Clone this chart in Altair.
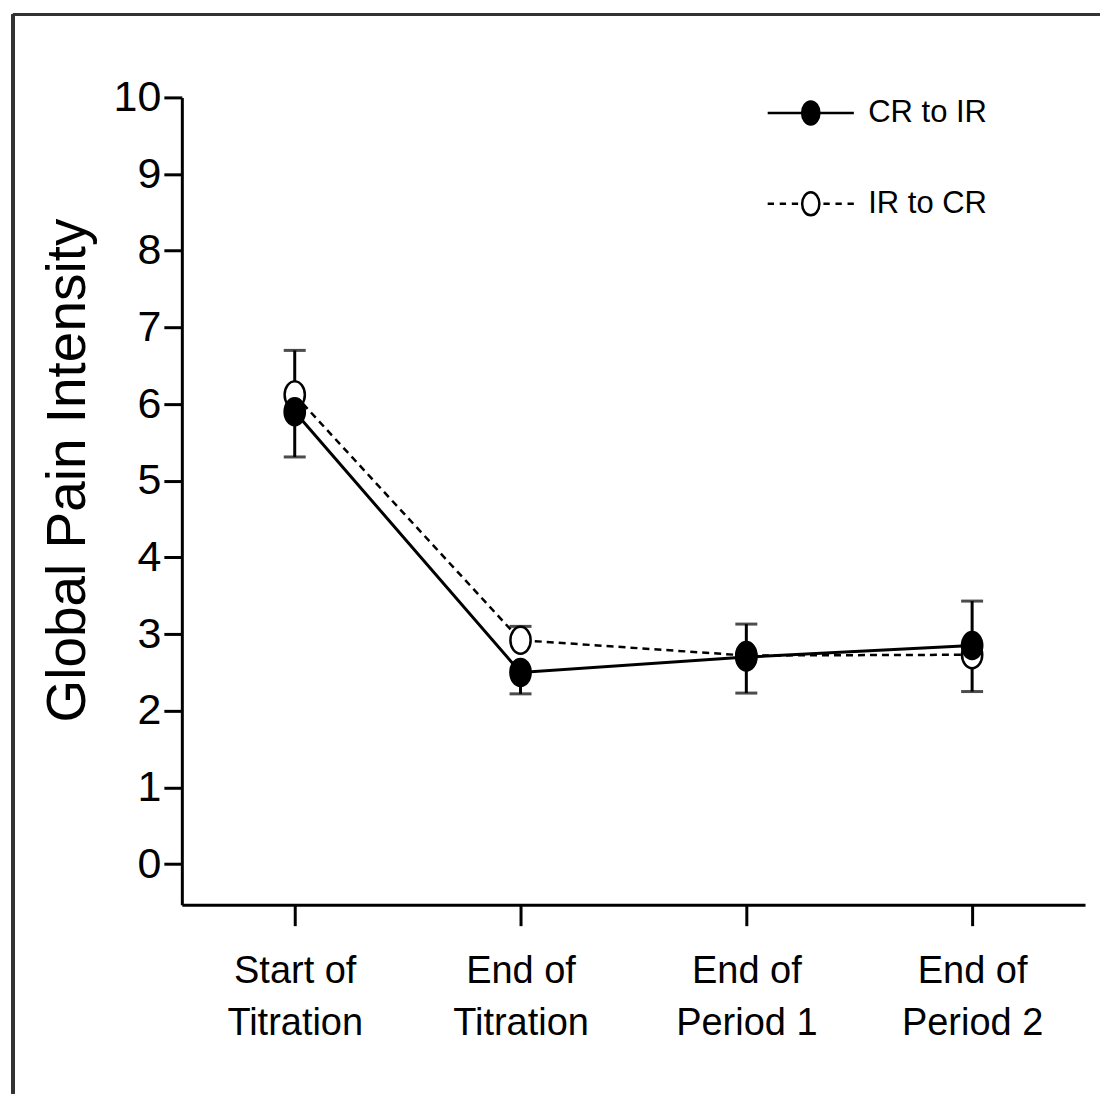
import altair as alt
import pandas as pd

timepoints = ["Start of Titration", "End of Titration", "End of Period 1", "End of Period 2"]
series_names = ["CR to IR", "IR to CR"]
cr_to_ir_mean = [5.90, 2.50, 2.70, 2.85]
cr_to_ir_bar = [5.31, 2.22, 3.13, 3.43]
ir_to_cr_mean = [6.12, 2.92, 2.72, 2.73]
ir_to_cr_bar = [6.70, 3.10, 2.23, 2.25]
y_ticks = list(range(0, 11))

rows = []
for t, m, b in zip(timepoints, cr_to_ir_mean, cr_to_ir_bar):
    rows.append({"time": t, "series": series_names[0], "mean": m, "bar": b})
for t, m, b in zip(timepoints, ir_to_cr_mean, ir_to_cr_bar):
    rows.append({"time": t, "series": series_names[1], "mean": m, "bar": b})
df = pd.DataFrame(rows)

REG = "Liberation Sans, Arial, sans-serif"

ELLIPSE = "M-0.75,0A0.75,1,0,1,0,0.75,0A0.75,1,0,1,0,-0.75,0Z"
LEG_SOLID = "M-3.75,0L-0.75,0M0.75,0L3.75,0" + ELLIPSE
LEG_DASH = ("M-3.75,0L-3.2,0M-2.7,0L-2.15,0M-1.65,0L-1.1,0"
            "M1.1,0L1.65,0M2.15,0L2.7,0M3.2,0L3.75,0" + ELLIPSE)

x_axis = alt.Axis(
    title=None,
    labelExpr="[slice(datum.label,0,indexof(datum.label,' of')+3), slice(datum.label,indexof(datum.label,' of')+4)]",
    labelFont=REG, labelFontSize=38, labelLineHeight=52, labelColor="black",
    labelPadding=27, tickSize=21, tickWidth=3, tickColor="black",
    domainWidth=3, domainColor="black", labelAngle=0, grid=False,
)
y_axis = alt.Axis(
    title="Global Pain Intensity", values=y_ticks,
    titleFont=REG, titleFontSize=55, titleFontWeight="normal", titleColor="black",
    titleX=-97, titleY=373, titleBaseline="alphabetic", titleAngle=270,
    labelFont=REG, labelFontSize=43, labelColor="black", labelPadding=3,
    tickSize=18, tickWidth=3, tickColor="black",
    domainWidth=3, domainColor="black", grid=False,
)
xs = alt.Scale(type="point", padding=0.5)
ys = alt.Scale(domain=[-0.53, 10], nice=False, zero=False)

X = alt.X("time:N", sort=timepoints, scale=xs, axis=x_axis)
Ymean = alt.Y("mean:Q", scale=ys, axis=y_axis)
Ybar = alt.Y("bar:Q", scale=ys, axis=y_axis)

base = alt.Chart(df)

err = base.mark_rule(color="black", strokeWidth=3).encode(x=X, y=Ymean, y2="bar:Q")
caps = base.mark_tick(color="black", thickness=3, size=22).encode(x=X, y=Ybar)

line_cr = base.transform_filter(alt.datum.series == series_names[0]).mark_line(
    color="black", strokeWidth=3).encode(x=X, y=Ymean)
line_ir = base.transform_filter(alt.datum.series == series_names[1]).mark_line(
    color="black", strokeWidth=2.5, strokeDash=[7, 5]).encode(x=X, y=Ymean)

pts_ir = base.transform_filter(alt.datum.series == series_names[1]).mark_point(
    shape=ELLIPSE, size=729, filled=True, fill="white", stroke="black",
    strokeWidth=2.5, opacity=1).encode(x=X, y=Ymean)
pts_cr = base.transform_filter(alt.datum.series == series_names[0]).mark_point(
    shape=ELLIPSE, size=729, filled=True, fill="black", stroke="black",
    strokeWidth=2.5, opacity=1).encode(x=X, y=Ymean)

leg = alt.Legend(
    title=None, orient="none", legendX=614, legendY=0, padding=0,
    symbolSize=529, symbolStrokeWidth=2.5,
    labelOffset=42, rowPadding=58, labelFont=REG, labelFontSize=31,
    labelColor="black", labelLimit=400,
)
legend_layer = base.transform_filter("false").mark_point(
    filled=False, stroke="black", strokeWidth=2.5, opacity=1).encode(
    x=X, y=Ymean,
    shape=alt.Shape("series:N", scale=alt.Scale(domain=series_names, range=[LEG_SOLID, LEG_DASH]), legend=leg),
    fill=alt.Fill("series:N", scale=alt.Scale(domain=series_names, range=["black", "white"]), legend=leg),
)

frame_top = alt.Chart(df).mark_rule(color="#333", strokeWidth=3).encode(
    x=alt.value(-169), x2=alt.value(919), y=alt.value(-83))
frame_left = alt.Chart(df).mark_rule(color="#333", strokeWidth=3).encode(
    x=alt.value(-169), y=alt.value(-83), y2=alt.value(997))

chart = alt.layer(
    frame_top, frame_left, err, caps, line_ir, line_cr, pts_ir, pts_cr, legend_layer
).properties(
    width=904, height=808,
    padding={"left": 11, "top": 12, "right": 0, "bottom": 0},
).configure(background="white").configure_view(stroke=None)

chart.save("out.html", embed_options={"renderer": "svg", "actions": False})
